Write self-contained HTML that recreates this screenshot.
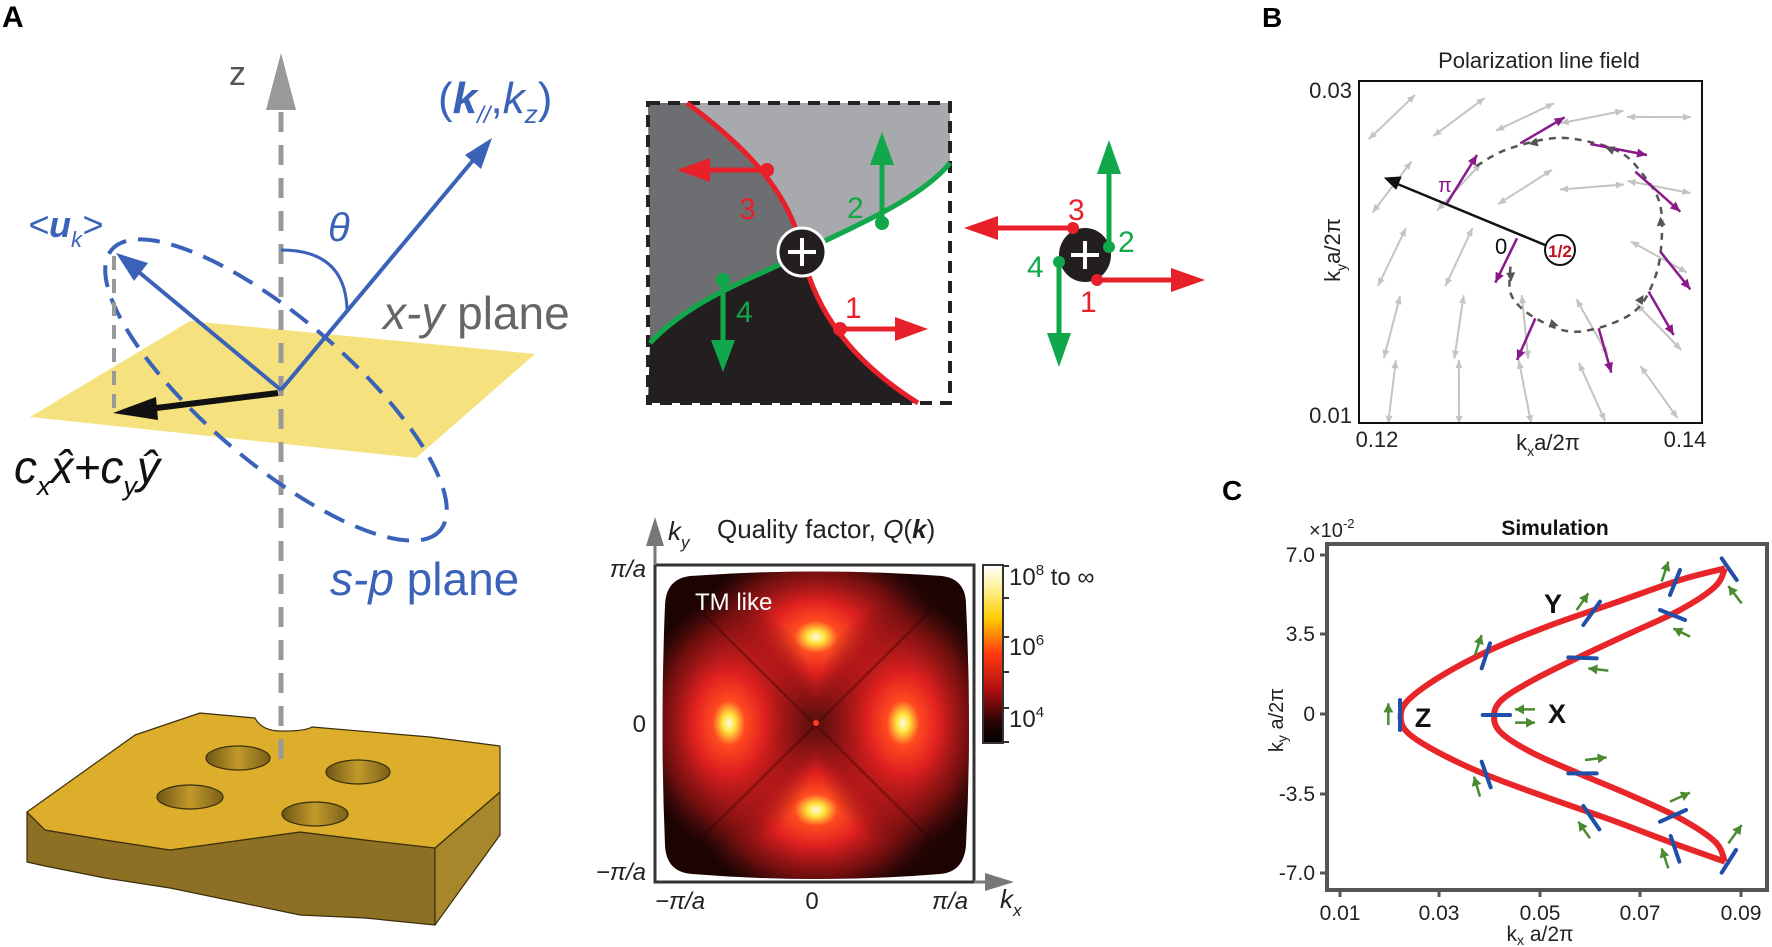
<!DOCTYPE html>
<html><head><meta charset="utf-8">
<style>
html,body{margin:0;padding:0;background:#fff;}
svg{display:block;font-family:"Liberation Sans",sans-serif;}
</style></head>
<body>
<svg id="s" width="1772" height="947" viewBox="0 0 1772 947" xmlns="http://www.w3.org/2000/svg">
<defs>
  <radialGradient id="hot" cx="50%" cy="50%" r="50%">
    <stop offset="0" stop-color="#fffbe0"/>
    <stop offset="0.07" stop-color="#ffe640"/>
    <stop offset="0.18" stop-color="#ff4a20"/>
    <stop offset="0.4" stop-color="#e02020"/>
    <stop offset="0.75" stop-color="#9a1414" stop-opacity="0.6"/>
    <stop offset="1" stop-color="#5a0e0c" stop-opacity="0"/>
  </radialGradient>
  <radialGradient id="bg" cx="50%" cy="50%" r="55%">
    <stop offset="0" stop-color="#5e110e"/>
    <stop offset="0.7" stop-color="#3c0a08"/>
    <stop offset="1" stop-color="#1c0403"/>
  </radialGradient>
  <linearGradient id="cbar" x1="0" y1="0" x2="0" y2="1">
    <stop offset="0" stop-color="#ffffff"/>
    <stop offset="0.12" stop-color="#fff3a0"/>
    <stop offset="0.3" stop-color="#ffcc00"/>
    <stop offset="0.5" stop-color="#ff3a10"/>
    <stop offset="0.7" stop-color="#b01010"/>
    <stop offset="0.88" stop-color="#2a0505"/>
    <stop offset="1" stop-color="#000"/>
  </linearGradient>
  <linearGradient id="holeG" x1="0" y1="0" x2="1" y2="0">
    <stop offset="0" stop-color="#6e5516"/><stop offset="0.5" stop-color="#c29a2a"/><stop offset="1" stop-color="#7a5f1a"/>
  </linearGradient>
  <clipPath id="mapclip"><path d="M690,576 Q816,567 942,576 Q966,579 966,605 Q972,725 966,845 Q964,872 940,874 Q816,884 692,874 Q666,872 665,845 Q660,725 665,605 Q666,579 690,576 z"/></clipPath>
</defs>

<text x="2" y="27" font-size="30" font-weight="bold">A</text>
<polygon points="30,417 190,321 535,354 416,458" fill="#f5e27e"/>

<g stroke="#3a2e0c" stroke-width="1.2" stroke-linejoin="round">
  <polygon points="27,812 45,830 105,840 170,850 300,832 365,840 435,848 435,925 365,918 300,915 170,888 105,878 45,866 27,862" fill="#8e7024"/>
  <polygon points="435,848 500,792 500,835 435,925" fill="#a6872c"/>
  <path d="M27,812 L135,735 L200,713 L255,718 Q262,732 285,731 Q305,731 312,727 L430,737 L500,746 L500,792 L435,848 L365,840 L300,832 L170,850 L105,840 L45,830 z" fill="#dcae2c"/>
  <ellipse cx="238" cy="758" rx="32" ry="12" fill="url(#holeG)"/>
  <ellipse cx="358" cy="772" rx="32" ry="12" fill="url(#holeG)"/>
  <ellipse cx="190" cy="797" rx="33" ry="12" fill="url(#holeG)"/>
  <ellipse cx="315" cy="814" rx="33" ry="12" fill="url(#holeG)"/>
</g>

<line x1="281" y1="112" x2="281" y2="770" stroke="#999" stroke-width="5" stroke-dasharray="20,13"/>
<polygon points="281,53 266,110 296,110" fill="#999"/>
<text x="229" y="85" font-size="34" fill="#555">z</text>

<ellipse cx="276" cy="390" rx="216" ry="72" transform="rotate(40.5 276 390)" fill="none" stroke="#3a62b8" stroke-width="4" stroke-dasharray="22,12"/>
<line x1="114" y1="256" x2="114" y2="412" stroke="#999" stroke-width="4" stroke-dasharray="14,9"/>

<line x1="281" y1="390" x2="480" y2="152" stroke="#3a62b8" stroke-width="4"/>
<polygon points="492,138 465,155 481,169" fill="#3a62b8"/>
<path d="M281,250 Q345,250 347,309" fill="none" stroke="#3a62b8" stroke-width="3"/>
<text x="328" y="241" font-size="40" font-style="italic" fill="#3a62b8">θ</text>
<text x="438" y="113" font-size="44" fill="#3a62b8">(<tspan font-weight="bold" font-style="italic">k</tspan><tspan font-size="24" dy="10" font-style="italic">//</tspan><tspan dy="-10">,</tspan><tspan font-style="italic">k</tspan><tspan font-size="26" dy="10" font-style="italic">z</tspan><tspan dy="-10">)</tspan></text>

<line x1="281" y1="390" x2="128" y2="263" stroke="#3a62b8" stroke-width="4"/>
<polygon points="116,253 148,263 134,281" fill="#3a62b8"/>
<text x="28" y="237" font-size="36" fill="#3a62b8" font-style="italic">&lt;<tspan font-weight="bold">u</tspan><tspan font-size="22" dy="10">k</tspan><tspan dy="-10">&gt;</tspan></text>

<line x1="278" y1="393" x2="140" y2="410" stroke="#111" stroke-width="6"/>
<polygon points="113,413 156,397 158,420" fill="#111"/>
<text x="14" y="483" font-size="46" font-style="italic" fill="#111">c<tspan font-size="27" dy="12">x</tspan><tspan dy="-12">x̂+c</tspan><tspan font-size="27" dy="12">y</tspan><tspan dy="-12">ŷ</tspan></text>

<text x="383" y="329" font-size="46" fill="#666"><tspan font-style="italic">x-y</tspan> plane</text>
<text x="330" y="595" font-size="46" fill="#3a62b8"><tspan font-style="italic">s-p</tspan> plane</text>

<path d="M648,103 L687,103 C730,135 790,185 802,252 C780,270 700,290 650,343 z" fill="#6d6e71"/>
<path d="M687,103 L950,103 L950,163 C920,200 850,228 802,252 C790,185 730,135 687,103 z" fill="#a7a9ac"/>
<path d="M650,343 C700,290 780,270 802,252 C815,310 850,360 918,403 L648,403 z" fill="#231f20"/>
<rect x="648" y="103" width="302" height="300" fill="none" stroke="#222" stroke-width="4" stroke-dasharray="12,8"/>
<path d="M687,103 C730,135 790,185 802,252 C815,310 850,360 918,403" fill="none" stroke="#e8202a" stroke-width="5"/>
<path d="M650,343 C700,290 780,270 802,252 C850,228 920,200 950,163" fill="none" stroke="#10a84a" stroke-width="5"/>
<g stroke-width="5">
  <line x1="767" y1="170" x2="700" y2="170" stroke="#e8202a"/><polygon points="677,170 710,158 710,182" fill="#e8202a"/><circle cx="767" cy="170" r="7" fill="#e8202a"/>
  <line x1="882" y1="223" x2="882" y2="155" stroke="#10a84a"/><polygon points="882,132 870,165 894,165" fill="#10a84a"/><circle cx="882" cy="223" r="7" fill="#10a84a"/>
  <line x1="723" y1="280" x2="723" y2="350" stroke="#10a84a"/><polygon points="723,372 711,340 735,340" fill="#10a84a"/><circle cx="723" cy="280" r="7" fill="#10a84a"/>
  <line x1="840" y1="329" x2="905" y2="329" stroke="#e8202a"/><polygon points="928,329 895,317 895,341" fill="#e8202a"/><circle cx="840" cy="329" r="7" fill="#e8202a"/>
</g>
<circle cx="802" cy="252" r="24" fill="#231f20" stroke="#fff" stroke-width="3"/>
<path d="M788,252 H816 M802,238 V266" stroke="#fff" stroke-width="4"/>
<g font-size="30">
<text x="739" y="219" fill="#e8202a">3</text>
<text x="847" y="218" fill="#10a84a">2</text>
<text x="736" y="322" fill="#10a84a">4</text>
<text x="845" y="318" fill="#e8202a">1</text>
</g>

<g stroke-width="5">
  <line x1="1073" y1="228" x2="990" y2="228" stroke="#e8202a"/><polygon points="964,228 998,216 998,240" fill="#e8202a"/>
  <line x1="1097" y1="280" x2="1180" y2="280" stroke="#e8202a"/><polygon points="1205,280 1171,268 1171,292" fill="#e8202a"/>
</g>
<ellipse cx="1085" cy="255" rx="26" ry="27" fill="#231f20"/>
<path d="M1071,255 H1099 M1085,241 V269" stroke="#fff" stroke-width="4"/>
<g stroke-width="5">
  <line x1="1109" y1="247" x2="1109" y2="165" stroke="#10a84a"/><polygon points="1109,140 1097,174 1121,174" fill="#10a84a"/>
  <line x1="1059" y1="262" x2="1059" y2="343" stroke="#10a84a"/><polygon points="1059,367 1047,333 1071,333" fill="#10a84a"/>
  <circle cx="1073" cy="228" r="6" fill="#e8202a"/><circle cx="1097" cy="280" r="6" fill="#e8202a"/>
  <circle cx="1109" cy="247" r="6" fill="#10a84a"/><circle cx="1059" cy="262" r="6" fill="#10a84a"/>
</g>
<g font-size="30">
<text x="1068" y="220" fill="#e8202a">3</text>
<text x="1118" y="252" fill="#10a84a">2</text>
<text x="1027" y="277" fill="#10a84a">4</text>
<text x="1080" y="312" fill="#e8202a">1</text>
</g>

<g clip-path="url(#mapclip)">
  <rect x="660" y="565" width="320" height="320" fill="url(#bg)"/>
  <ellipse cx="816" cy="637" rx="120" ry="90" fill="url(#hot)"/>
  <ellipse cx="816" cy="810" rx="120" ry="90" fill="url(#hot)"/>
  <ellipse cx="729" cy="723" rx="90" ry="125" fill="url(#hot)"/>
  <ellipse cx="903" cy="723" rx="90" ry="125" fill="url(#hot)"/>
  <path d="M665,576 L966,874 M966,576 L665,874" stroke="#2a0504" stroke-width="2.5" opacity="0.35"/>
  <circle cx="816" cy="723" r="3" fill="#ff3a20"/>
</g>
<rect x="655" y="565" width="319" height="317" fill="none" stroke="#333" stroke-width="3"/>
<line x1="655" y1="565" x2="655" y2="543" stroke="#777" stroke-width="3"/>
<polygon points="655,517 646,546 664,546" fill="#777"/>
<line x1="974" y1="882" x2="990" y2="882" stroke="#777" stroke-width="3"/>
<polygon points="1014,882 985,873 985,891" fill="#777"/>
<text x="695" y="610" font-size="24" fill="#fff">TM like</text>
<text x="668" y="540" font-size="26" font-style="italic" fill="#222">k<tspan font-size="17" dy="8">y</tspan></text>
<text x="717" y="538" font-size="26" fill="#222">Quality factor, <tspan font-style="italic">Q</tspan>(<tspan font-style="italic" font-weight="bold">k</tspan>)</text>
<rect x="983" y="565" width="20" height="178" fill="url(#cbar)" stroke="#333" stroke-width="2"/>
<g stroke="#333" stroke-width="2">
<line x1="1003" y1="566" x2="1009" y2="566"/><line x1="1003" y1="598" x2="1009" y2="598"/><line x1="1003" y1="637" x2="1009" y2="637"/><line x1="1003" y1="672" x2="1009" y2="672"/><line x1="1003" y1="708" x2="1009" y2="708"/><line x1="1003" y1="742" x2="1009" y2="742"/>
</g>
<g font-size="24" fill="#222">
<text x="1009" y="585">10<tspan font-size="15" dy="-10">8</tspan><tspan dy="10"> to ∞</tspan></text>
<text x="1009" y="655">10<tspan font-size="15" dy="-10">6</tspan></text>
<text x="1009" y="727">10<tspan font-size="15" dy="-10">4</tspan></text>
<text x="646" y="577" text-anchor="end" font-style="italic">π/a</text>
<text x="646" y="732" text-anchor="end">0</text>
<text x="646" y="880" text-anchor="end" font-style="italic">−π/a</text>
<text x="680" y="909" text-anchor="middle" font-style="italic">−π/a</text>
<text x="812" y="909" text-anchor="middle">0</text>
<text x="950" y="909" text-anchor="middle" font-style="italic">π/a</text>
<text x="1000" y="908" font-style="italic" font-size="26">k<tspan font-size="17" dy="8">x</tspan></text>
</g>

<text x="1262" y="27" font-size="28" font-weight="bold">B</text>
<text x="1539" y="68" font-size="22" text-anchor="middle" fill="#222">Polarization line field</text>
<g id="bgray"></g>
<path id="bdash" fill="none" stroke="#555" stroke-width="2.5" stroke-dasharray="7,6"/>
<g id="bpurp"></g>
<line x1="1545" y1="245" x2="1395" y2="183" stroke="#111" stroke-width="2.5"/>
<polygon points="1385,178 1401,177 1396,189" fill="#111" stroke="#111" stroke-width="1"/>
<circle cx="1560" cy="250" r="15" fill="#fff" stroke="#111" stroke-width="2"/>
<text x="1560" y="257" font-size="17" font-weight="bold" fill="#c01020" text-anchor="middle">1/2</text>
<text x="1438" y="192" font-size="20" fill="#8a1a8a">π</text>
<text x="1495" y="254" font-size="22" fill="#111">0</text>
<rect x="1359" y="81" width="343" height="342" fill="none" stroke="#111" stroke-width="2"/>
<g font-size="22" fill="#222">
<text x="1352" y="98" text-anchor="end">0.03</text>
<text x="1352" y="423" text-anchor="end">0.01</text>
<text x="1377" y="447" text-anchor="middle">0.12</text>
<text x="1685" y="447" text-anchor="middle">0.14</text>
<text x="1548" y="450" text-anchor="middle">k<tspan font-size="14" dy="6">x</tspan><tspan dy="-6">a/2π</tspan></text>
<text transform="translate(1340,250) rotate(-90)" text-anchor="middle">k<tspan font-size="14" dy="6">y</tspan><tspan dy="-6">a/2π</tspan></text>
</g>

<text x="1222" y="500" font-size="28" font-weight="bold">C</text>
<text x="1555" y="535" font-size="21" font-weight="bold" text-anchor="middle" fill="#111">Simulation</text>
<text x="1309" y="537" font-size="20" fill="#222">×10<tspan font-size="13" dy="-9">-2</tspan></text>
<g id="cplot"></g>
<rect x="1327" y="544" width="440" height="346" fill="none" stroke="#555" stroke-width="4"/>
<g font-size="21" fill="#222" text-anchor="end">
<text x="1315" y="562">7.0</text>
<text x="1315" y="641">3.5</text>
<text x="1315" y="721">0</text>
<text x="1315" y="801">-3.5</text>
<text x="1315" y="880">-7.0</text>
</g>
<g stroke="#555" stroke-width="3">
<line x1="1320" y1="555" x2="1327" y2="555"/><line x1="1320" y1="634" x2="1327" y2="634"/><line x1="1320" y1="714" x2="1327" y2="714"/><line x1="1320" y1="794" x2="1327" y2="794"/><line x1="1320" y1="873" x2="1327" y2="873"/>
<line x1="1340" y1="890" x2="1340" y2="897"/><line x1="1439" y1="890" x2="1439" y2="897"/><line x1="1540" y1="890" x2="1540" y2="897"/><line x1="1640" y1="890" x2="1640" y2="897"/><line x1="1741" y1="890" x2="1741" y2="897"/>
</g>
<g font-size="21" fill="#222" text-anchor="middle">
<text x="1340" y="920">0.01</text><text x="1439" y="920">0.03</text><text x="1540" y="920">0.05</text><text x="1640" y="920">0.07</text><text x="1741" y="920">0.09</text>
<text x="1540" y="941">k<tspan font-size="14" dy="4">x</tspan><tspan dy="-4"> a/2π</tspan></text>
<text transform="translate(1283,720) rotate(-90)" font-size="20">k<tspan font-size="14" dy="4">y</tspan><tspan dy="-4"> a/2π</tspan></text>
</g>
<g font-size="27" font-weight="bold" fill="#111" text-anchor="middle">
<text x="1423" y="727">Z</text><text x="1557" y="723">X</text><text x="1553" y="613">Y</text>
</g>
</svg>
<script>
(function(){
var NS="http://www.w3.org/2000/svg";
function el(t,a,p){var e=document.createElementNS(NS,t);for(var k in a)e.setAttribute(k,a[k]);p.appendChild(e);return e;}
function head(p,x1,y1,x2,y2,L,W,col){var a=Math.atan2(y2-y1,x2-x1),c=Math.cos(a),s=Math.sin(a);
 var bx=x2-L*c,by=y2-L*s;el("polygon",{points:x2+","+y2+" "+(bx-W*s)+","+(by+W*c)+" "+(bx+W*s)+","+(by-W*c),fill:col},p);}
function smooth(P){var d="M"+P[0][0]+","+P[0][1];for(var i=0;i<P.length-1;i++){var p0=P[i-1]||P[i],p1=P[i],p2=P[i+1],p3=P[i+2]||p2;
 d+=" C"+(p1[0]+(p2[0]-p0[0])/6)+","+(p1[1]+(p2[1]-p0[1])/6)+" "+(p2[0]-(p3[0]-p1[0])/6)+","+(p2[1]-(p3[1]-p1[1])/6)+" "+p2[0]+","+p2[1];}return d;}
var g=document.getElementById("bgray"),cx=1560,cy=250;
var xs=[1392,1459,1525,1592,1659],ys=[117,187,257,327,392];
xs.forEach(function(xx){ys.forEach(function(yy){
 var dx=xx-cx,dy=cy-yy;if(Math.sqrt(dx*dx+dy*dy)<40)return;
 var th=Math.atan2(dy,dx),ps=th/2-27*Math.PI/180,L=32;
 var ux=Math.cos(ps)*L,uy=-Math.sin(ps)*L;
 var x1=xx-ux,y1=yy-uy,x2=xx+ux,y2=yy+uy;
 el("line",{x1:x1,y1:y1,x2:x2,y2:y2,stroke:"#c4c4c4","stroke-width":2},g);
 head(g,x1,y1,x2,y2,8,3.5,"#c4c4c4");head(g,x2,y2,x1,y1,8,3.5,"#c4c4c4");});});
function zb(p){return [p[0]/3+1272,p[1]/3];}
var dp=[[715,800],[720,890],[800,960],[920,995],[1080,940],[1150,830],[1170,700],[1160,600],[1110,520],[1050,460],[950,425],[840,415],[700,450],[610,500]].map(zb);
document.getElementById("bdash").setAttribute("d",smooth(dp));
var pp=document.getElementById("bpurp");
[[[525,610],[615,465]],[[745,430],[878,352]],[[955,432],[1125,465]],[[1090,515],[1225,635]],[[1165,755],[1255,868]],[[1130,875],[1205,1005]],[[980,985],[1018,1118]],[[790,955],[735,1080]],[[735,715],[670,848]]].forEach(function(a){
 var s=zb(a[0]),t=zb(a[1]);el("line",{x1:s[0],y1:s[1],x2:t[0],y2:t[1],stroke:"#8a1a8a","stroke-width":2.5},pp);head(pp,s[0],s[1],t[0],t[1],10,4.5,"#8a1a8a");});
[[0,1],[2,3],[4,5],[6,7],[9,10],[11,12]].forEach(function(i){var a=dp[i[0]],b=dp[i[1]];var m=[(a[0]+b[0])/2,(a[1]+b[1])/2];head(pp,a[0],a[1],m[0],m[1],9,4.5,"#555");});
var c=document.getElementById("cplot");function z3(p){return [p[0]/3+1280,p[1]/3+500];}
var outer=[[1335,205],[1200,240],[1000,310],[800,380],[620,455],[480,530],[385,600],[362,650],[385,700],[480,760],[620,825],[800,892],[1000,962],[1180,1030],[1335,1085]].map(z3);
var inner=[[1335,205],[1305,260],[1200,330],[1050,400],[900,470],[760,540],[665,600],[642,650],[665,700],[760,760],[900,822],[1050,885],[1200,955],[1305,1025],[1335,1085]].map(z3);
el("path",{d:smooth(outer),fill:"none",stroke:"#e8262a","stroke-width":6},c);
el("path",{d:smooth(inner),fill:"none",stroke:"#e8262a","stroke-width":6},c);
[[[360,600],[360,690]],[[608,645],[690,645]],[[605,505],[630,430]],[[910,375],[960,305]],[[1170,285],[1200,210]],[[1325,175],[1370,240]],[[1140,330],[1215,360]],[[865,472],[950,475]],[[605,785],[632,862]],[[865,820],[950,820]],[[910,918],[958,988]],[[1140,965],[1218,930]],[[1172,1008],[1198,1085]],[[1325,1118],[1368,1050]]].forEach(function(a){var s=z3(a[0]),t=z3(a[1]);
 el("line",{x1:s[0],y1:s[1],x2:t[0],y2:t[1],stroke:"#1f4fa8","stroke-width":4,"stroke-linecap":"round"},c);});
[[[325,675],[325,610]],[[765,628],[705,628]],[[705,668],[765,668]],[[585,465],[605,405]],[[890,330],[925,280]],[[1145,245],[1165,185]],[[1385,310],[1345,258]],[[1230,410],[1180,385]],[[985,512],[925,505]],[[915,780],[980,772]],[[600,890],[582,830]],[[930,1015],[895,965]],[[1170,905],[1230,878]],[[1165,1105],[1145,1045]],[[1345,1030],[1385,975]]].forEach(function(a){var s=z3(a[0]),t=z3(a[1]);
 el("line",{x1:s[0],y1:s[1],x2:t[0],y2:t[1],stroke:"#4a8a30","stroke-width":2.5},c);head(c,s[0],s[1],t[0],t[1],9,5,"#4a8a30");});
})();
</script>
</body></html>
